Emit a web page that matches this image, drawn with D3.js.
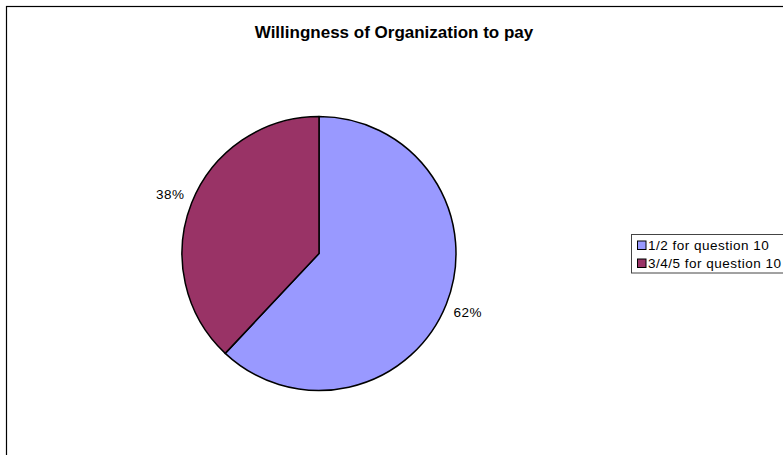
<!DOCTYPE html>
<html>
<head>
<meta charset="utf-8">
<script src="https://cdn.jsdelivr.net/npm/d3@7"></script>
<style>
  html, body { margin: 0; padding: 0; background: #fff; }
  svg { display: block; }
  text { font-family: "Liberation Sans", Arial, sans-serif; fill: #000; }
</style>
</head>
<body>
<svg id="chart" width="783" height="455"></svg>
<script>
// Survey answers to question 10, as shares of respondents
const categories = ["1/2 for question 10", "3/4/5 for question 10"];
const shares = [62, 38];
const sliceColors = ["#9999FF", "#993366"];
const chartTitle = "Willingness of Organization to pay";

const svg = d3.select("#chart");

// outer chart frame (runs past the right and bottom edges)
svg.append("rect")
  .attr("x", 6.5).attr("y", 6.5)
  .attr("width", 800).attr("height", 470)
  .attr("fill", "#fff")
  .attr("stroke", "#000")
  .attr("stroke-width", 1.2);

svg.append("text")
  .attr("x", 394).attr("y", 38)
  .attr("text-anchor", "middle")
  .style("font-size", "17px")
  .style("font-weight", "bold")
  .text(chartTitle);

const cx = 319, cy = 253.5, radius = 137, labelRadius = 160;

const pie = d3.pie().sort(null).value(d => d.value);
const arcs = pie(categories.map((c, i) => ({ name: c, value: shares[i], color: sliceColors[i] })));
const arc = d3.arc().innerRadius(0).outerRadius(radius);
const total = d3.sum(shares);

const g = svg.append("g").attr("transform", `translate(${cx},${cy})`);

g.selectAll("path.slice")
  .data(arcs)
  .join("path")
  .attr("class", "slice")
  .attr("d", arc)
  .attr("fill", d => d.data.color)
  .attr("stroke", "#000")
  .attr("stroke-width", 1.5)
  .attr("stroke-linejoin", "round");

// percentage labels just outside each slice, along its middle angle
g.selectAll("text.pct")
  .data(arcs)
  .join("text")
  .attr("class", "pct")
  .attr("x", d => Math.sin((d.startAngle + d.endAngle) / 2) * labelRadius)
  .attr("y", d => -Math.cos((d.startAngle + d.endAngle) / 2) * labelRadius + 4.7)
  .attr("text-anchor", "middle")
  .style("font-size", "13.5px")
  .style("letter-spacing", "0.5px")
  .text(d => Math.round(d.data.value / total * 100) + "%");

// legend
const legend = svg.append("g").attr("transform", "translate(631.5,234.5)");
legend.append("rect")
  .attr("x", 0).attr("y", 0)
  .attr("width", 200).attr("height", 38.5)
  .attr("fill", "#fff")
  .attr("stroke", "#444")
  .attr("stroke-width", 1);

const rowY = d3.scaleBand().domain(categories).range([2, 38]).padding(0);

const rows = legend.selectAll("g.row")
  .data(categories)
  .join("g")
  .attr("class", "row")
  .attr("transform", d => `translate(0,${rowY(d) + rowY.bandwidth() / 2})`);

rows.append("rect")
  .attr("x", 6).attr("y", -4.5)
  .attr("width", 8.5).attr("height", 8.5)
  .attr("fill", (d, i) => sliceColors[i])
  .attr("stroke", "#000")
  .attr("stroke-width", 1);

rows.append("text")
  .attr("x", 16.5).attr("y", 4.8)
  .style("font-size", "13.5px")
  .style("letter-spacing", "0.5px")
  .text(d => d);
</script>
</body>
</html>
